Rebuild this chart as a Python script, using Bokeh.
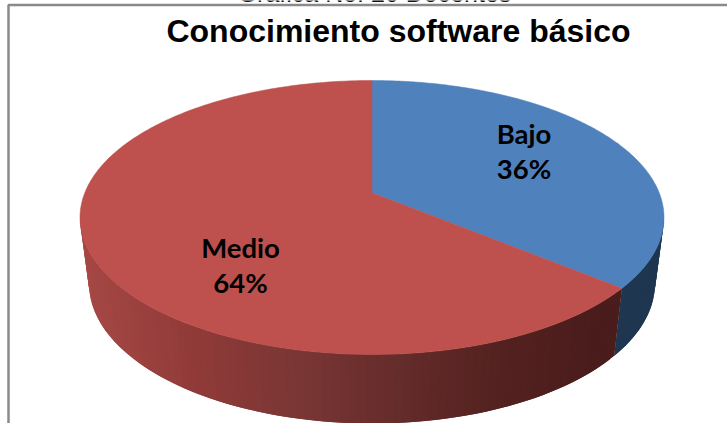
import math
from bokeh.plotting import figure
from bokeh.models import ColumnDataSource, Range1d
from bokeh.core.properties import value
from bokeh.embed import file_html
from bokeh.resources import INLINE

categories = ["Bajo", "Medio"]
percents = [36, 64]
title_text = "Conocimiento software básico"
clipped_text = "Gráfica No. 20 Docentes"

top_colors = ["#4F81BD", "#BE504D"]
wall_blue = "#1F3650"
wall_stops = [(80, (166, 72, 69)), (200, (143, 58, 56)), (300, (122, 54, 53)),
              (400, (101, 44, 43)), (500, (84, 34, 32)), (600, (74, 28, 28)), (670, (74, 28, 28))]

W, H = 727, 423
A = -0.18
TOP = (371.5, 217, 292, 137)
BOT = (371.5, 283, 283, 140)


def proj(theta, e):
    u, v = math.sin(theta), -math.cos(theta)
    d = 1 + A * v
    X = u * math.sqrt(1 - A * A) / d
    Y = (v + A) / d
    return e[0] + e[2] * X, e[1] + e[3] * Y


def wall_color(x):
    for (x0, c0), (x1, c1) in zip(wall_stops, wall_stops[1:]):
        if x <= x1:
            f = max(0, (x - x0) / (x1 - x0))
            return "#%02x%02x%02x" % tuple(round(a + (b - a) * f) for a, b in zip(c0, c1))
    return "#4a1c1c"


total = sum(percents)
edges = [0.0]
for val in percents:
    edges.append(edges[-1] + 2 * math.pi * val / total)

p = figure(width=W, height=H, x_range=Range1d(0, W), y_range=Range1d(H, 0),
           output_backend="svg", toolbar_location=None, min_border=0)
p.axis.visible = False
p.grid.visible = False
p.outline_line_color = None
p.background_fill_color = "white"
p.border_fill_color = "white"

# side wall: strips overlap the next one so no seams show
wx, wy, wc = [], [], []
for i in range(len(percents)):
    a0, a1 = edges[i], edges[i + 1]
    n = max(2, int((a1 - a0) / math.radians(1.5)))
    step = (a1 - a0) / n
    for k in range(n):
        t0 = a0 + step * k
        t1 = t0 + step * (1 if k == n - 1 else 2)
        x0, y0 = proj(t0, TOP)
        x1, y1 = proj(t1, TOP)
        if min(y0, y1) < TOP[1] - 6:
            continue
        x2, y2 = proj(t1, BOT)
        x3, y3 = proj(t0, BOT)
        wx.append([x0, x1, x2, x3])
        wy.append([y0, y1, y2, y3])
        wc.append(wall_blue if i == 0 else wall_color(x0))
p.patches("xs", "ys", source=ColumnDataSource(dict(xs=wx, ys=wy, c=wc)),
          fill_color="c", line_color=None)

# top face
cx, cy = TOP[0], TOP[1] + TOP[3] * A
fx, fy = [], []
for i in range(len(percents)):
    a0, a1 = edges[i], edges[i + 1]
    n = 240
    pts = [proj(a0 + (a1 - a0) * k / n, TOP) for k in range(n + 1)]
    fx.append([cx] + [q[0] for q in pts])
    fy.append([cy] + [q[1] for q in pts])
p.patches("xs", "ys", source=ColumnDataSource(dict(xs=fx, ys=fy, c=top_colors)),
          fill_color="c", line_color="c", line_width=0.5)

# texts
p.text([374], [-7.5], text=[clipped_text], text_font=value("Liberation Sans"), text_font_size="25px",
       text_align="center", text_baseline="middle", text_color="#111111")
p.text([398], [30], text=[title_text], text_font=value("Liberation Sans"), text_font_size="32px",
       text_font_style="bold", text_align="center", text_baseline="middle", text_color="black")

# frame
p.line([8, 8, W], [H, 4.5, 4.5], line_color="#8a8a8a", line_width=2.5)

label_x = [523.5, 240]
label_y1 = [133, 246.5]
label_y2 = [168, 281.5]
p.text(label_x, label_y1, text=categories, text_font=value("Lato"), text_font_size="27.5px",
       text_font_style="bold", text_align="center", text_baseline="middle", text_color="black")
p.text(label_x, label_y2, text=[f"{v}%" for v in percents], text_font=value("Lato"), text_font_size="27.5px",
       text_font_style="bold", text_align="center", text_baseline="middle", text_color="black")

open("out.html", "w").write(file_html(p, INLINE))
